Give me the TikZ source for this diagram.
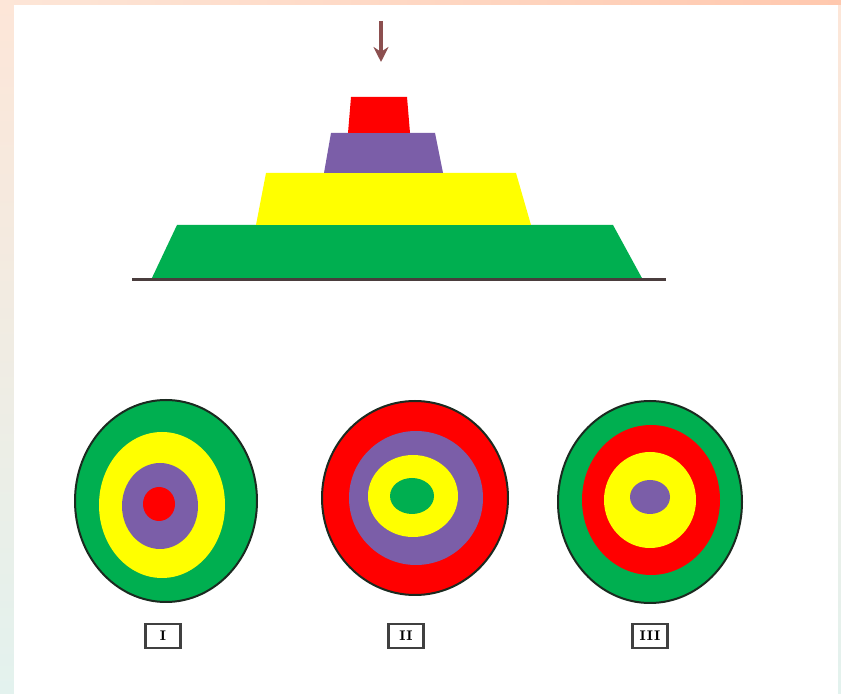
\documentclass[tikz,border=0pt]{standalone}
\usetikzlibrary{arrows.meta}
\definecolor{ringred}{HTML}{FF0000}
\definecolor{ringpurple}{HTML}{7B5EA8}
\definecolor{ringyellow}{HTML}{FFFF00}
\definecolor{ringgreen}{HTML}{00AF50}
\definecolor{rim}{HTML}{1B2A20}
\definecolor{pointer}{HTML}{8C4F4F}
\definecolor{peach}{HTML}{FDE6D8}
\definecolor{peachdark}{HTML}{FFC8AE}
\definecolor{mint}{HTML}{E3F2EE}
\definecolor{baseline}{HTML}{4A3D3D}
\tikzset{
  rimline/.style={draw=rim, line width=1pt},
  tag/.style={draw=black!75, line width=1.1pt, minimum width=17.5pt,
    minimum height=12pt, inner sep=0pt, fill=white,
    font=\fontsize{7}{8}\selectfont\bfseries},
  floorline/.style={draw=baseline, line width=1.5pt},
  drop/.style={-{Stealth[length=7.5pt,width=7.5pt]}, line width=2.4pt, draw=pointer},
}

\begin{document}
\begin{tikzpicture}[x=0.5pt,y=-0.5pt]
\useasboundingbox (0,0) rectangle (841,694);

%% ---- page background ----------------------------------------------------
\shade[top color=peach, bottom color=mint] (0,0) rectangle (841,694);
\shade[left color=peach, right color=peachdark] (0,0) rectangle (841,5);
\fill[white] (14,5) rectangle (838,694);

%% ---- stacked pyramid ----------------------------------------------------
\coordinate (tail) at (381,21);
\coordinate (tip) at (381,62);
\draw[drop] (tail) -- (tip);

\fill[ringgreen]  (151,280) -- (177,225) -- (613,225) -- (643,280) -- cycle;
\fill[ringyellow] (256,225) -- (266,173) -- (516,173) -- (531,225) -- cycle;
\fill[ringpurple] (324,173) -- (331,133) -- (435,133) -- (443,173) -- cycle;
\fill[ringred]    (348,133) -- (351,97) -- (407,97) -- (410,133) -- cycle;

\coordinate (floorL) at (132,280);
\coordinate (floorR) at (666,280);
\draw[floorline] (floorL) -- (floorR);

%% ---- the three targets --------------------------------------------------
% outer ring first, then inwards: colour/centre x/centre y/x radius/y radius
\foreach \c/\cx/\cy/\rx/\ry in
    {ringgreen/166/501/91/101, ringyellow/162/505/63/73,
     ringpurple/160/506/38/43, ringred/159/504/16/17}
  \fill[\c] (\cx,\cy) ellipse [x radius=\rx, y radius=\ry];
\draw[rimline] (166,501) ellipse [x radius=91, y radius=101];

\foreach \c/\cx/\cy/\rx/\ry in
    {ringred/415/498/93/97, ringpurple/416/498/67/67,
     ringyellow/413/496/45/41, ringgreen/412/496/22/18}
  \fill[\c] (\cx,\cy) ellipse [x radius=\rx, y radius=\ry];
\draw[rimline] (415,498) ellipse [x radius=93, y radius=97];

\foreach \c/\cx/\cy/\rx/\ry in
    {ringgreen/650/502/92/101, ringred/651/500/69/75,
     ringyellow/650/500/46/48, ringpurple/650/497/20/17}
  \fill[\c] (\cx,\cy) ellipse [x radius=\rx, y radius=\ry];
\draw[rimline] (650,502) ellipse [x radius=92, y radius=101];

%% ---- labels -------------------------------------------------------------
\node[tag] (labA) at (163,636) {I};
\node[tag] (labB) at (406,636) {II};
\node[tag] (labC) at (650,636) {III};

\end{tikzpicture}
\end{document}
